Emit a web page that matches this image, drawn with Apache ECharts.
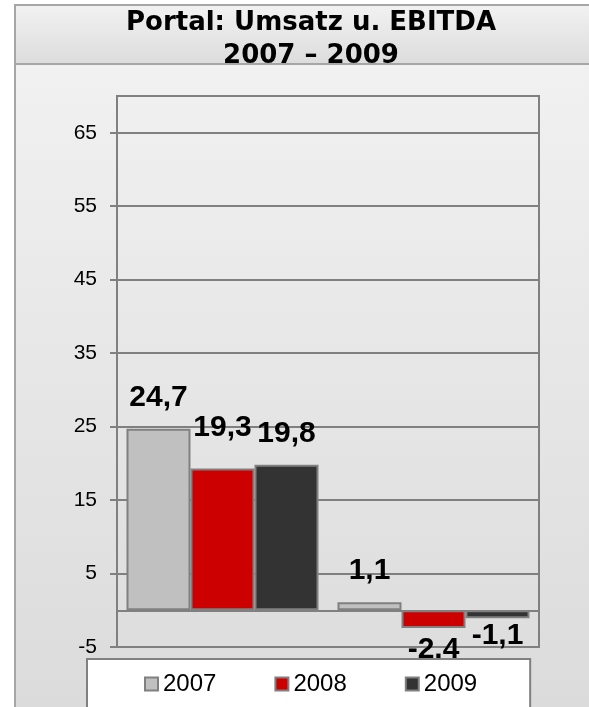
<!DOCTYPE html>
<html>
<head>
<meta charset="utf-8">
<script src="https://cdn.jsdelivr.net/npm/echarts@6/dist/echarts.min.js"></script>
<style>
  html, body { margin: 0; padding: 0; background: #fff; }
  #chart { width: 589px; height: 707px; }
</style>
</head>
<body>
<div id="chart"></div>
<script>
// Daten
const categories = ['Umsatz', 'EBITDA'];
const years = ['2007', '2008', '2009'];
const values2007 = [24.7, 1.1];
const values2008 = [19.3, -2.4];
const values2009 = [19.8, -1.1];
const labels2007 = ['24,7', '1,1'];
const labels2008 = ['19,3', '-2.4'];
const labels2009 = ['19,8', '-1,1'];
const yTicks = [-5, 5, 15, 25, 35, 45, 55, 65];

const colors = ['#c0c0c0', '#cc0000', '#333333'];

function makeSeries(name, values, labels, color, idx) {
  return {
    name: name,
    type: 'bar',
    barGap: 0,
    barCategoryGap: '9%',
    itemStyle: { color: color, borderColor: '#808080', borderWidth: 2 },
    data: values.map(function (v, i) {
      // Beschriftung über bzw. unter dem Balken
      let dist = v < 0 ? 2 : 16;
      if (idx === 1 && i === 0) dist = 26;
      if (idx === 1 && i === 1) dist = 7;
      return {
        value: v,
        label: {
          position: v < 0 ? 'bottom' : 'top',
          distance: dist,
          formatter: labels[i]
        }
      };
    }),
    label: {
      show: true,
      color: '#000',
      fontFamily: 'Liberation Sans, Arial, sans-serif',
      fontWeight: 'bold',
      fontSize: 30
    }
  };
}

const chart = echarts.init(document.getElementById('chart'));

const option = {
  animation: false,
  backgroundColor: '#fff',
  graphic: [
    {
      type: 'rect', z: -10,
      shape: { x: 15, y: 5, width: 620, height: 740 },
      style: {
        fill: new echarts.graphic.LinearGradient(0, 0, 0, 1, [
          { offset: 0, color: '#f3f3f3' },
          { offset: 1, color: '#dadada' }
        ]),
        stroke: '#a6a6a6', lineWidth: 2
      }
    },
    {
      type: 'rect', z: -9,
      shape: { x: 15, y: 5, width: 620, height: 59 },
      style: {
        fill: new echarts.graphic.LinearGradient(0, 0, 0, 1, [
          { offset: 0, color: '#f2f2f2' },
          { offset: 1, color: '#dcdcdc' }
        ]),
        stroke: '#a6a6a6', lineWidth: 2
      }
    },
    {
      type: 'text', z: -8,
      style: {
        x: 311, y: 7,
        text: 'Portal: Umsatz u. EBITDA\n2007 \u2013 2009',
        textAlign: 'center',
        fill: '#000',
        font: 'bold 26px "DejaVu Sans", Verdana, sans-serif',
        lineHeight: 33
      }
    }
  ],
  grid: {
    left: 117, right: 50, top: 96, bottom: 60,
    show: true,
    backgroundColor: 'transparent',
    borderColor: '#808080',
    borderWidth: 2
  },
  legend: {
    data: years,
    left: 87, top: 659,
    icon: 'rect',
    itemWidth: 13, itemHeight: 13,
    itemGap: 58,
    padding: [13, 53, 20, 57],
    backgroundColor: '#fff',
    borderColor: '#808080',
    borderWidth: 2,
    borderRadius: 0,
    textStyle: {
      color: '#000',
      fontFamily: 'Liberation Sans, Arial, sans-serif',
      fontSize: 24
    }
  },
  xAxis: {
    type: 'category',
    data: categories,
    axisLine: { lineStyle: { color: '#808080', width: 2 } },
    axisTick: { length: 13, lineStyle: { color: '#808080', width: 2 } },
    axisLabel: { show: false },
    splitLine: { show: false }
  },
  yAxis: {
    type: 'value',
    min: -5,
    max: 70,
    axisLine: { show: true, lineStyle: { color: '#808080', width: 2 } },
    axisTick: {
      show: true, length: 7, customValues: yTicks,
      lineStyle: { color: '#808080', width: 2 }
    },
    axisLabel: {
      customValues: yTicks,
      margin: 20,
      color: '#000',
      fontFamily: 'Liberation Sans, Arial, sans-serif',
      fontSize: 21
    },
    splitLine: { show: true, lineStyle: { color: '#808080', width: 2 } }
  },
  series: [
    makeSeries(years[0], values2007, labels2007, colors[0], 0),
    makeSeries(years[1], values2008, labels2008, colors[1], 1),
    makeSeries(years[2], values2009, labels2009, colors[2], 2)
  ]
};

chart.setOption(option);
</script>
</body>
</html>
